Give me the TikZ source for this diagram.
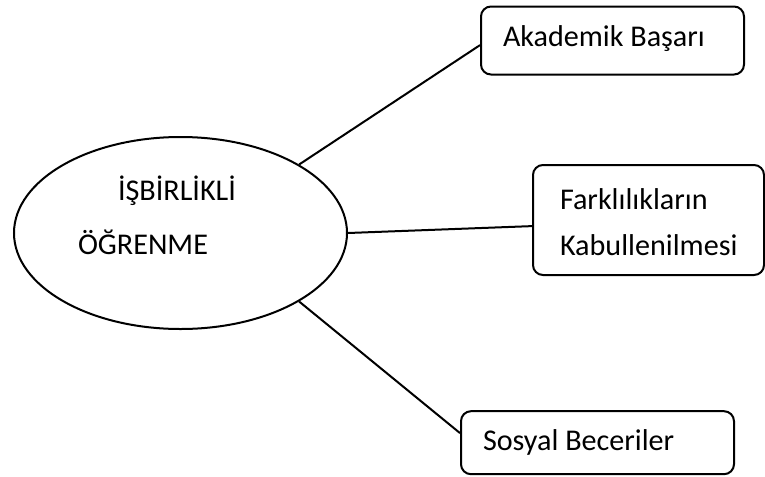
\documentclass[tikz,border=0pt]{standalone}
\usepackage{fontspec}
\setmainfont{Carlito}
\usetikzlibrary{shapes.geometric}

\tikzset{every picture/.style={line width=1.5pt}}
\tikzset{
  kutu/.style={draw, rounded corners=7.5pt, inner sep=0pt},
  yazi/.style={anchor=base west, inner sep=0pt, font=\fontsize{22.6}{27}\selectfont},
}

\begin{document}
\begin{tikzpicture}[x=0.75pt,y=0.75pt,yscale=-1,xscale=1]
\useasboundingbox (0,0) rectangle (765,476);

%Shape: Ellipse
\node [draw, ellipse, minimum width=249.75pt, minimum height=144pt, inner sep=0pt] (ogrenme) at (180.5,233) {};

%Shape: Rounded Rectangle
\node [kutu, minimum width=197.25pt, minimum height=51pt] (akademik) at (612.5,40.5) {};
%Shape: Rounded Rectangle
\node [kutu, minimum width=173.25pt, minimum height=82.5pt] (farkli) at (648.5,220) {};
%Shape: Rounded Rectangle
\node [kutu, minimum width=204.75pt, minimum height=47.25pt] (sosyal) at (597.5,442.7) {};

%Straight Lines
\draw (ogrenme.30) -- (akademik.182.4);
%Straight Lines
\draw (ogrenme.0) -- (farkli.183.3);
%Straight Lines
\draw (ogrenme.-30) -- (sosyal.176.8);

% Text Node
\node [yazi] (isbirlikli) at (117,200) {İŞBİRLİKLİ};
% Text Node
\node [yazi] (ogr) at (77,254) {ÖĞRENME};
% Text Node
\node [yazi] (basari) at (502,46.7) {Akademik Başarı};
% Text Node
\node [yazi] (farklilik) at (559,209) {Farklılıkların};
% Text Node
\node [yazi] (kabul) at (559,255) {Kabullenilmesi};
% Text Node
\node [yazi] (beceri) at (482,450) {Sosyal Beceriler};

\end{tikzpicture}
\end{document}
